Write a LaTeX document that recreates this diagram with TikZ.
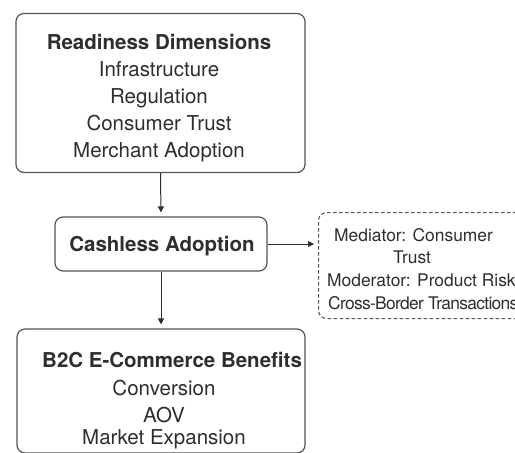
\documentclass[tikz,border=0pt]{standalone}
\usepackage{fontspec}
\setmainfont{TeX Gyre Heros}
\usetikzlibrary{arrows.meta}
\definecolor{edge}{HTML}{555555}
\definecolor{ink}{HTML}{2E2E2E}
\tikzset{
  box/.style={draw=edge, line width=1.2pt, rounded corners=8pt, fill=white, inner sep=0pt},
  sidebox/.style={draw=edge, line width=1.1pt, dash pattern=on 3.5pt off 2.5pt, rounded corners=8pt, fill=white, inner sep=0pt},
  big/.style={text=ink, font=\fontsize{20.5}{24}\selectfont, inner sep=0pt},
  bigbold/.style={text=ink, font=\fontsize{20.5}{24}\selectfont\bfseries, inner sep=0pt},
  small/.style={text=ink, font=\fontsize{17.4}{21}\selectfont, inner sep=0pt},
  tight/.style={small, font=\fontsize{17.4}{21}\selectfont\addfontfeatures{LetterSpace=-4}},
  flow/.style={draw=ink, line width=1pt, -{Triangle[length=6pt,width=6pt]}, shorten >=4pt}
}
\begin{document}
\begin{tikzpicture}[x=1pt,y=-1pt]
  \useasboundingbox (0,0) rectangle (515,453);
  \clip (0,0) rectangle (515,453);
  \fill[white] (0,0) rectangle (515,453);

  % boxes
  \node[box, minimum width=289pt, minimum height=159pt] (ready) at (160.5,93) {};
  \node[box, minimum width=212pt, minimum height=54pt] (cash) at (161,244) {};
  \node[box, minimum width=288pt, minimum height=124pt] (bene) at (161,391) {};
  \node[sidebox, minimum width=230pt, minimum height=106pt, anchor=north west] (side) at (318,212) {};

  % readiness dimensions
  \node[bigbold, anchor=base] (r0) at (159,49.5) {Readiness Dimensions};
  \node[big, anchor=base] (r1) at (159,76) {Infrastructure};
  \node[big, anchor=base] (r2) at (159,103.5) {Regulation};
  \node[big, anchor=base] (r3) at (159,130) {Consumer Trust};
  \node[big, anchor=base] (r4) at (159,157) {Merchant Adoption};

  % cashless adoption
  \node[bigbold, anchor=base] (c0) at (162,251) {Cashless Adoption};

  % side factors
  \node[small, anchor=base west] (s0) at (334,241.5) {Mediator: Consumer};
  \node[small, anchor=base] (s1) at (412,263.5) {Trust};
  \node[small, anchor=base west] (s2) at (327,286.5) {Moderator: Product Risk};
  \node[tight, anchor=base west] (s3) at (328,309.5) {Cross-Border Transactions};

  % benefits
  \node[bigbold, anchor=base west] (b0) at (42,367) {B2C E-Commerce Benefits};
  \node[big, anchor=base] (b1) at (164,395) {Conversion};
  \node[big, anchor=base] (b2) at (164,422) {AOV};
  \node[big, anchor=base] (b3) at (164,444) {Market Expansion};

  % connectors
  \draw[flow] (ready.south) -- (cash.north);
  \draw[flow] (cash.south) -- (bene.north);
  \draw[flow] (cash.east) -- (side.west |- cash.east);
\end{tikzpicture}
\end{document}
